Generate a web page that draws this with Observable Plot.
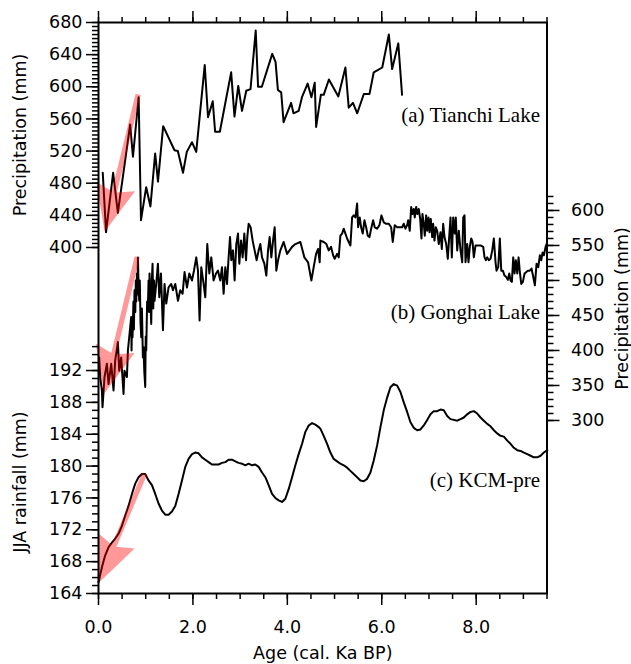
<!DOCTYPE html>
<html><head><meta charset="utf-8">
<script src="https://cdn.jsdelivr.net/npm/d3@7"></script>
<script src="https://cdn.jsdelivr.net/npm/@observablehq/plot@0.6"></script>
<style>body{margin:0;background:#fff}</style>
</head><body><div id="chart"></div>
<script>
// (a) Tianchi Lake: [age ka BP, precipitation mm]
const tianchi = [[0.09,493],[0.16,419],[0.31,493],[0.41,443],[0.67,553],[0.73,513],[0.85,587],[0.90,434],[1.01,475],[1.10,451],[1.20,517],[1.26,482],[1.37,551],[1.61,521],[1.68,520],[1.79,493],[1.87,519],[1.98,531],[2.07,519],[2.25,627],[2.32,562],[2.42,582],[2.47,544],[2.57,544],[2.81,618],[2.88,563],[2.96,601],[3.04,570],[3.13,595],[3.22,597],[3.33,670],[3.38,600],[3.46,600],[3.68,641],[3.75,631],[3.80,596],[3.87,593],[3.92,556],[4.08,580],[4.13,567],[4.24,570],[4.31,587],[4.43,604],[4.51,587],[4.58,605],[4.61,550],[4.71,590],[4.77,590],[4.88,609],[5.08,588],[5.23,624],[5.30,574],[5.39,580],[5.48,567],[5.62,591],[5.74,591],[5.83,618],[6.01,624],[6.15,665],[6.22,622],[6.35,654],[6.43,590]];

// (b) Gonghai Lake: [age ka BP, precipitation mm]
const gonghai = [[0.015,390],[0.036,362],[0.072,343],[0.085,319],[0.127,362],[0.178,381],[0.212,352],[0.269,381],[0.318,343],[0.354,386],[0.411,412],[0.439,371],[0.481,390],[0.530,338],[0.551,371],[0.602,362],[0.623,400],[0.693,448],[0.70,400],[0.71,440],[0.721,419],[0.74,470],[0.75,430],[0.763,486],[0.78,455],[0.79,500],[0.80,470],[0.814,510],[0.825,480],[0.835,533],[0.85,490],[0.863,471],[0.875,500],[0.89,440],[0.905,419],[0.92,460],[0.94,390],[0.954,405],[0.97,370],[0.99,348],[1.00,420],[1.011,400],[1.03,470],[1.047,462],[1.06,500],[1.07,455],[1.081,510],[1.10,470],[1.117,438],[1.13,500],[1.145,524],[1.16,460],[1.175,500],[1.187,471],[1.223,495],[1.259,524],[1.287,476],[1.323,510],[1.365,429],[1.399,495],[1.435,467],[1.484,490],[1.541,495],[1.577,486],[1.626,495],[1.683,471],[1.732,486],[1.781,481],[1.823,512],[1.874,490],[1.923,510],[1.980,500],[2.022,514],[2.071,533],[2.107,514],[2.141,443],[2.177,519],[2.226,495],[2.262,476],[2.304,552],[2.347,510],[2.389,533],[2.438,500],[2.489,510],[2.531,514],[2.580,500],[2.616,519],[2.650,481],[2.686,519],[2.722,495],[2.756,533],[2.786,562],[2.813,529],[2.849,543],[2.883,500],[2.919,552],[2.955,567],[2.983,524],[3.019,557],[3.053,533],[3.089,567],[3.125,529],[3.152,562],[3.180,581],[3.222,576],[3.265,557],[3.307,543],[3.350,529],[3.392,543],[3.428,552],[3.464,533],[3.513,524],[3.555,507],[3.591,543],[3.625,562],[3.661,533],[3.697,557],[3.731,576],[3.767,514],[3.803,529],[3.852,543],[3.922,555],[3.994,538],[4.100,548],[4.170,552],[4.276,555],[4.361,533],[4.439,526],[4.509,500],[4.558,519],[4.609,538],[4.651,545],[4.685,526],[4.700,557],[4.770,555],[4.827,552],[4.876,543],[4.927,548],[4.969,536],[5.003,531],[5.054,538],[5.088,533],[5.124,564],[5.160,567],[5.194,574],[5.230,567],[5.266,560],[5.300,555],[5.336,550],[5.372,590],[5.406,593],[5.442,590],[5.478,610],[5.499,576],[5.533,590],[5.563,576],[5.597,567],[5.633,586],[5.669,576],[5.703,564],[5.739,562],[5.775,574],[5.817,586],[5.851,576],[5.902,574],[5.951,579],[5.993,593],[6.042,583],[6.093,581],[6.148,581],[6.199,576],[6.233,555],[6.275,579],[6.326,576],[6.375,576],[6.432,576],[6.466,581],[6.502,574],[6.538,579],[6.559,586],[6.593,571],[6.623,605],[6.650,595],[6.678,602],[6.699,590],[6.729,605],[6.756,595],[6.784,602],[6.814,588],[6.841,560],[6.862,595],[6.890,581],[6.911,564],[6.941,593],[6.962,571],[6.990,590],[7.011,569],[7.038,588],[7.068,562],[7.089,581],[7.117,557],[7.145,576],[7.174,571],[7.208,552],[7.244,569],[7.272,545],[7.301,581],[7.329,562],[7.365,552],[7.399,531],[7.428,562],[7.456,590],[7.484,533],[7.513,590],[7.547,567],[7.568,590],[7.598,543],[7.632,571],[7.668,543],[7.704,526],[7.725,590],[7.753,593],[7.774,526],[7.810,552],[7.837,526],[7.865,548],[7.895,560],[7.923,555],[7.950,533],[7.986,550],[8.035,550],[8.092,550],[8.149,548],[8.177,533],[8.204,529],[8.234,533],[8.268,529],[8.304,531],[8.340,543],[8.374,560],[8.410,526],[8.431,514],[8.467,519],[8.501,560],[8.531,514],[8.565,514],[8.601,507],[8.637,505],[8.671,501],[8.701,510],[8.728,500],[8.756,498],[8.785,533],[8.813,510],[8.840,529],[8.870,510],[8.898,533],[8.925,512],[8.955,495],[8.989,498],[9.025,510],[9.061,512],[9.095,514],[9.137,514],[9.173,517],[9.209,505],[9.243,493],[9.279,524],[9.315,519],[9.349,536],[9.379,529],[9.406,540],[9.434,536],[9.470,548],[9.491,552]];

// (c) KCM-pre: [age ka BP, JJA rainfall mm]
const kcm = [[0.00,165.4],[0.072,167.3],[0.142,168.8],[0.212,169.8],[0.284,170.4],[0.354,170.9],[0.424,171.5],[0.496,172.5],[0.566,173.8],[0.636,175.0],[0.708,176.5],[0.778,177.8],[0.848,178.6],[0.920,179.0],[0.990,179.0],[1.060,178.2],[1.132,177.6],[1.202,176.5],[1.272,175.3],[1.344,174.4],[1.414,173.9],[1.484,173.9],[1.556,174.3],[1.626,175.0],[1.696,176.5],[1.768,178.2],[1.838,179.9],[1.908,180.9],[1.980,181.5],[2.050,181.7],[2.120,181.6],[2.192,181.1],[2.262,180.8],[2.332,180.5],[2.404,180.2],[2.474,180.2],[2.544,180.2],[2.616,180.4],[2.686,180.5],[2.756,180.8],[2.828,180.8],[2.898,180.6],[2.968,180.4],[3.040,180.3],[3.110,180.1],[3.180,180.3],[3.252,180.1],[3.322,180.2],[3.392,179.9],[3.464,179.2],[3.534,178.6],[3.604,177.6],[3.676,176.5],[3.746,176.0],[3.816,175.7],[3.888,175.5],[3.958,175.9],[4.028,177.1],[4.100,178.6],[4.170,180.1],[4.240,181.5],[4.312,182.8],[4.382,184.3],[4.452,185.1],[4.524,185.4],[4.594,185.2],[4.664,184.9],[4.700,184.7],[4.770,183.8],[4.842,182.8],[4.912,181.7],[4.982,180.9],[5.054,180.6],[5.124,180.3],[5.194,180.1],[5.266,179.8],[5.336,179.4],[5.406,179.0],[5.478,178.6],[5.548,178.2],[5.618,178.1],[5.690,178.4],[5.760,179.2],[5.830,180.7],[5.902,182.6],[5.972,184.9],[6.042,187.0],[6.114,188.6],[6.184,189.9],[6.254,190.3],[6.326,190.1],[6.396,189.3],[6.466,188.0],[6.538,186.8],[6.608,185.5],[6.678,184.8],[6.750,184.5],[6.820,184.6],[6.890,185.1],[6.962,185.8],[7.032,186.5],[7.102,186.9],[7.174,186.9],[7.244,187.1],[7.314,187.0],[7.386,186.3],[7.456,185.9],[7.526,185.8],[7.598,185.7],[7.668,185.9],[7.738,186.1],[7.810,186.5],[7.880,186.8],[7.950,186.9],[8.022,186.6],[8.092,186.1],[8.162,185.7],[8.234,185.3],[8.304,185.0],[8.374,184.5],[8.446,184.1],[8.516,183.8],[8.586,183.7],[8.658,183.2],[8.728,182.8],[8.798,182.3],[8.870,182.0],[8.940,181.9],[9.010,181.7],[9.082,181.5],[9.152,181.3],[9.222,181.1],[9.294,181.1],[9.364,181.3],[9.434,181.7],[9.506,182.0]];

// Trend arrows: from (age, value) to (age, value), per panel
const arrows = [
  {panel: "a", fromAge: 0.85, fromVal: 590, toAge: 0.14, toVal: 419},
  {panel: "b", fromAge: 0.83, fromVal: 533, toAge: 0.13, toVal: 338},
  {panel: "c", fromAge: 0.99, fromVal: 179, toAge: 0.0, toVal: 165.2}
];

// Tick values
const xMajor = [0, 2, 4, 6, 8];
const xMinor = d3.range(0, 9.501, 0.5);
const aMajor = d3.range(400, 681, 40);
const aMinor = d3.range(400, 681, 5);
const bMajor = d3.range(300, 601, 50);
const bMinor = d3.range(300, 621, 10);
const cMajor = d3.range(164, 193, 4);
const cMinor = d3.range(164, 196, 1);

// Panel labels
const panelLabels = [
  {text: "(a) Tianchi Lake", panel: "a", value: 564},
  {text: "(b) Gonghai Lake", panel: "b", value: 454},
  {text: "(c) KCM-pre", panel: "c", value: 178.2}
];

// Stacking of the three panels on one shared vertical unit (0 = bottom, 1 = top of frame)
const ya = d3.scaleLinear([400, 680], [0.606, 1]);
const yb = d3.scaleLinear([300, 600], [0.303, 0.6708]);
const yc = d3.scaleLinear([164, 192], [0, 0.3905]);
const panelY = {a: ya, b: yb, c: yc};

function arrowPath(sx, sy, tx, ty) {
  const len = Math.hypot(sx - tx, sy - ty);
  const ux = (sx - tx) / len, uy = (sy - ty) / len;
  const nx = -uy, ny = ux;
  const Lw = 46.5, W = 20, Ln = 41, hw = 2.6;
  const p = (l, w) => [tx + l * ux + w * nx, ty + l * uy + w * ny];
  const pts = [[sx + hw * nx, sy + hw * ny], p(Ln, hw), p(Lw, W), [tx, ty], p(Lw, -W), p(Ln, -hw), [sx - hw * nx, sy - hw * ny]];
  return "M" + pts.map(q => q[0].toFixed(2) + "," + q[1].toFixed(2)).join("L") + "Z";
}

const arrowMark = (index, scales) => {
  const ns = "http://www.w3.org/2000/svg";
  const g = document.createElementNS(ns, "g");
  for (const a of arrows) {
    const m = panelY[a.panel];
    const path = document.createElementNS(ns, "path");
    path.setAttribute("d", arrowPath(scales.x(a.fromAge), scales.y(m(a.fromVal)), scales.x(a.toAge), scales.y(m(a.toVal))));
    path.setAttribute("fill", "red");
    path.setAttribute("fill-opacity", "0.4");
    g.appendChild(path);
  }
  return g;
};

const fmt = m => d => String(Math.round(m.invert(d)));
const blank = () => "";
const FS = 17.5;

const chart = Plot.plot({
  width: 631,
  height: 664,
  marginLeft: 98,
  marginRight: 84.5,
  marginTop: 22,
  marginBottom: 71,
  x: {domain: [0, 9.5]},
  y: {domain: [0, 1]},
  style: {fontFamily: "DejaVu Sans", fontSize: FS + "px", background: "white", color: "black"},
  marks: [
    Plot.line(tianchi, {x: d => d[0], y: d => ya(d[1]), stroke: "black", strokeWidth: 2}),
    Plot.line(gonghai, {x: d => d[0], y: d => yb(d[1]), stroke: "black", strokeWidth: 2}),
    Plot.line(kcm, {x: d => d[0], y: d => yc(d[1]), stroke: "black", strokeWidth: 2}),
    arrowMark,
    Plot.frame({stroke: "black", strokeWidth: 2}),
    Plot.axisX({anchor: "bottom", ticks: xMajor, tickSize: 12, tickPadding: 15, tickFormat: d => d.toFixed(1), strokeWidth: 1.5, fontSize: FS, label: null}),
    Plot.axisX({anchor: "bottom", ticks: xMinor, tickSize: 6, tickFormat: blank, strokeWidth: 1.5, label: null}),
    Plot.axisX({anchor: "top", ticks: xMajor, tickSize: 12, tickFormat: blank, strokeWidth: 1.5, label: null}),
    Plot.axisX({anchor: "top", ticks: xMinor, tickSize: 6, tickFormat: blank, strokeWidth: 1.5, label: null}),
    Plot.axisY({anchor: "left", ticks: aMajor.map(ya), tickSize: 12, tickPadding: 4, tickFormat: fmt(ya), strokeWidth: 1.5, fontSize: FS, label: null}),
    Plot.axisY({anchor: "left", ticks: aMinor.map(ya), tickSize: 6, tickFormat: blank, strokeWidth: 1.5, label: null}),
    Plot.axisY({anchor: "left", ticks: cMajor.map(yc), tickSize: 12, tickPadding: 4, tickFormat: fmt(yc), strokeWidth: 1.5, fontSize: FS, label: null}),
    Plot.axisY({anchor: "left", ticks: cMinor.map(yc), tickSize: 6, tickFormat: blank, strokeWidth: 1.5, label: null}),
    Plot.axisY({anchor: "right", ticks: bMajor.map(yb), tickSize: 12, tickPadding: 12, tickFormat: fmt(yb), strokeWidth: 1.5, fontSize: FS, label: null}),
    Plot.axisY({anchor: "right", ticks: bMinor.map(yb), tickSize: 6, tickFormat: blank, strokeWidth: 1.5, label: null}),
    Plot.text(["Precipitation (mm)"], {frameAnchor: "left", y: () => (ya(400) + ya(680)) / 2, dx: -78, rotate: -90, textAnchor: "middle", lineAnchor: "middle", fontSize: FS}),
    Plot.text(["JJA rainfall (mm)"], {frameAnchor: "left", y: () => (yc(164) + yc(192)) / 2, dx: -78, rotate: -90, textAnchor: "middle", lineAnchor: "middle", fontSize: FS}),
    Plot.text(["Precipitation (mm)"], {frameAnchor: "right", y: () => (yb(300) + yb(620)) / 2, dx: 75, rotate: -90, textAnchor: "middle", lineAnchor: "middle", fontSize: FS}),
    Plot.text(["Age (cal. Ka BP)"], {frameAnchor: "bottom", dy: 60, textAnchor: "middle", lineAnchor: "middle", fontSize: FS}),
    Plot.text(panelLabels, {text: "text", frameAnchor: "right", y: d => panelY[d.panel](d.value), dx: -7, textAnchor: "end", lineAnchor: "middle", fontFamily: "Liberation Serif", fontSize: 21})
  ]
});
document.getElementById("chart").appendChild(chart);
</script>
</body></html>
